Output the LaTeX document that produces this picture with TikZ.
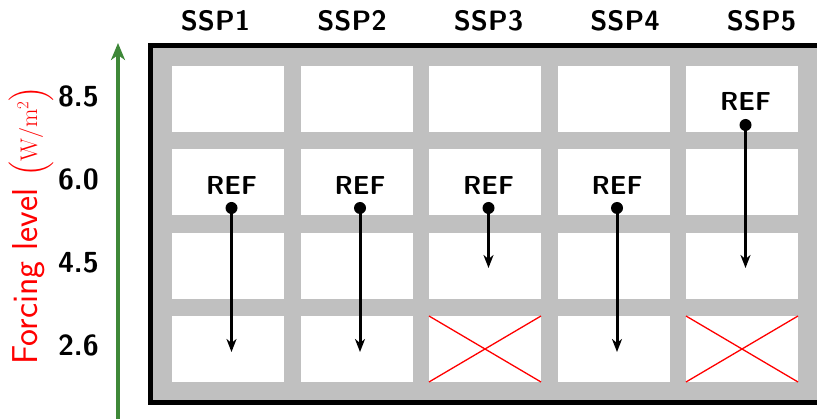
\RequirePackage{fix-cm}
\documentclass[tikz,border=0pt]{standalone}
\usepackage{amsmath}
\usepackage{fontspec}
\usetikzlibrary{arrows.meta}
\definecolor{axisgreen}{RGB}{62,136,56}
\definecolor{gridgray}{RGB}{192,192,192}
\begin{document}
\begin{tikzpicture}[x=1pt,y=-1pt,
  cell/.style={fill=white, minimum width=112pt, minimum height=66pt, inner sep=0pt, outer sep=0pt},
  hdr/.style={font=\fontsize{28}{30}\selectfont\sffamily\bfseries, anchor=base, inner sep=0pt},
  lvl/.style={font=\fontsize{29}{30}\selectfont\sffamily\bfseries, anchor=base east, inner sep=0pt},
  reflab/.style={font=\fontsize{26}{28}\selectfont\sffamily\bfseries, anchor=base, inner sep=0pt},
  refdot/.style={circle, fill=black, minimum size=12pt, inner sep=0pt},
  flow/.style={line width=3pt, -{Stealth[length=13pt,width=10pt,inset=4pt]}},
  cross/.style={red, line width=1.3pt},
  axis/.style={axisgreen, line width=4pt, -{Stealth[length=17pt,width=14pt,inset=5pt]}}]
\useasboundingbox (0,0) rectangle (817,419);
\begin{scope}
\clip (0,0) rectangle (817,419);
% frame
\draw[line width=5pt, fill=gridgray] (150.5,45.5) rectangle (819.5,402.5);
% cells
\foreach \i in {1,...,5}{
  \foreach \j in {1,...,4}{
    \node[cell] (c\i\j) at ({228+128.5*(\i-1)},{99+83.33*(\j-1)}) {};
  }
}
% crosses
\draw[cross] (c34.north west) -- (c34.south east) (c34.south west) -- (c34.north east);
\draw[cross] (c54.north west) -- (c54.south east) (c54.south west) -- (c54.north east);
% green axis
\coordinate (gbot) at (118,430);
\coordinate (gtop) at (118,43);
\draw[axis] (gbot) -- (gtop);
\end{scope}
% headers
\foreach \i in {1,...,5}{
  \node[hdr] (h\i) at ({215.5+136.5*(\i-1)},31) {SSP\i};
}
% levels
\node[lvl] (l1) at (99,107) {8.5};
\node[lvl] (l2) at (99,190) {6.0};
\node[lvl] (l3) at (99,273) {4.5};
\node[lvl] (l4) at (99,356) {2.6};
% axis title
\node[rotate=90, anchor=base west, text=red, inner sep=0pt] (title) at (37,365)
  {\fontsize{36}{38}\selectfont\sffamily Forcing level\hspace{12pt}\fontsize{24}{26}\selectfont$\Big(\mathrm{W/m^2}\Big)$};
% REF markers
\foreach \i/\e in {1/352,2/352,3/268,4/352}{
  \node[reflab] (r\i) at ({231.5+128.5*(\i-1)},195) {REF};
  \node[refdot] (d\i) at ({231.5+128.5*(\i-1)},208) {};
  \coordinate (e\i) at ({231.5+128.5*(\i-1)},\e);
  \draw[flow] (d\i.center) -- (e\i);
}
\node[reflab] (r5) at (745.5,111) {REF};
\node[refdot] (d5) at (745.5,125) {};
\coordinate (e5) at (745.5,268);
\draw[flow] (d5.center) -- (e5);
\end{tikzpicture}
\end{document}
